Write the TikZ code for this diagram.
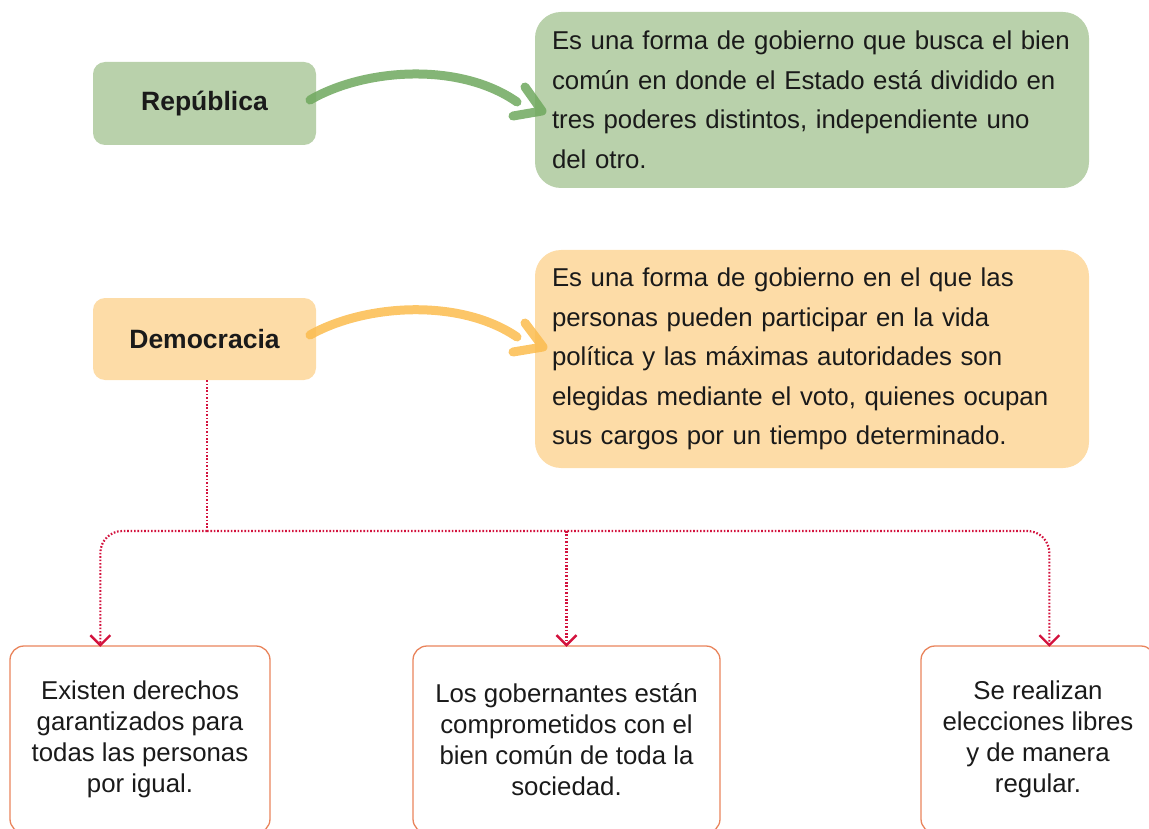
\documentclass[tikz,border=0pt]{standalone}
\usepackage{fontspec}
\setmainfont{Liberation Sans}
\usetikzlibrary{arrows.meta,calc}
\definecolor{gfill}{HTML}{B9D1AB}
\definecolor{ofill}{HTML}{FDDCA7}
\definecolor{garr}{HTML}{6FA85E}
\definecolor{oarr}{HTML}{FBBC4E}
\definecolor{dotred}{HTML}{D3123D}
\definecolor{boxline}{HTML}{E9845C}
\definecolor{txt}{HTML}{1A1A1A}
\tikzset{
  keybox/.style={rectangle, rounded corners=12pt, draw=none, text=txt,
    font=\fontsize{26.5}{30}\selectfont\bfseries},
  descbox/.style={rectangle, rounded corners=26pt, draw=none, text=txt,
    align=left, text width=520pt, inner xsep=17pt, inner ysep=0pt,
    font=\fontsize{25.8}{39.5}\selectfont},
  featbox/.style={rectangle, rounded corners=14pt, draw=boxline, line width=1.3pt,
    text=txt, align=center, inner sep=0pt,
    font=\fontsize{25.8}{31}\selectfont},
  curvearrow/.style={line width=9pt, line cap=round, line join=round, opacity=0.85},
  dotline/.style={draw=dotred, line width=2.2pt, dash pattern=on 1.6pt off 1.8pt},
  dottip/.style={-{Straight Barb[length=10pt,width=20pt,line width=2.4pt]}}
}
\begin{document}
\begin{tikzpicture}[x=1pt,y=-1pt]
\useasboundingbox (0,0) rectangle (1149,829);
% key nodes
\node[keybox, fill=gfill, minimum width=223pt, minimum height=83pt] (rep) at (204.5,103.5) {República};
\node[keybox, fill=ofill, minimum width=223pt, minimum height=82pt] (dem) at (204.5,339) {Democracia};
% description nodes
\node[descbox, fill=gfill, minimum height=176pt] (repd) at (812,100)
  {\mbox{Es una forma de gobierno que busca el bien}\\\mbox{común en donde el Estado está dividido en}\\\mbox{tres poderes distintos, independiente uno}\\\mbox{del otro.}};
\node[descbox, fill=ofill, minimum height=218pt] (demd) at (812,359)
  {\mbox{Es una forma de gobierno en el que las}\\\mbox{personas pueden participar en la vida}\\\mbox{política y las máximas autoridades son}\\\mbox{elegidas mediante el voto, quienes ocupan}\\\mbox{sus cargos por un tiempo determinado.}};
% feature boxes
\node[featbox, minimum width=260pt, minimum height=187pt] (b1) at (140,739.5)
  {Existen derechos\\garantizados para\\todas las personas\\por igual.};
\node[featbox, minimum width=307pt, minimum height=187pt] (b2) at (566.5,739.5)
  {Los gobernantes están\\comprometidos con el\\bien común de toda la\\sociedad.};
\node[featbox, minimum width=234pt, minimum height=187pt] (b3) at (1038,739.5)
  {Se realizan\\elecciones libres\\y de manera\\regular.};
% curved arrows
\coordinate (gs) at (310,100);
\coordinate (ge) at (517,102);
\coordinate (ga) at (525,87);
\coordinate (gt) at (542,111);
\coordinate (gb) at (513,116);
\draw[curvearrow, draw=garr] (gs) .. controls (365,68) and (460,62) .. (ge)
  (ga) -- (gt) -- (gb);
\coordinate (os) at (310,335);
\coordinate (oe) at (517,337);
\coordinate (oa) at (525,323);
\coordinate (ot) at (543,347);
\coordinate (ob) at (513,352);
\draw[curvearrow, draw=oarr] (os) .. controls (365,304) and (460,298) .. (oe)
  (oa) -- (ot) -- (ob);
% dotted tree
\coordinate (bus) at (207,531);
\draw[dotline] ([xshift=2.5pt]dem.south) -- (bus);
\draw[dotline, dottip, rounded corners=22pt] (bus) -| ([xshift=91pt,yshift=-1.5pt]b1.north west);
\draw[dotline, dottip] (bus -| b2.north) -- ([yshift=-1.5pt]b2.north);
\draw[dotline, dottip, rounded corners=22pt] (bus) -| ([xshift=129pt,yshift=-1.5pt]b3.north west);
\end{tikzpicture}
\end{document}
